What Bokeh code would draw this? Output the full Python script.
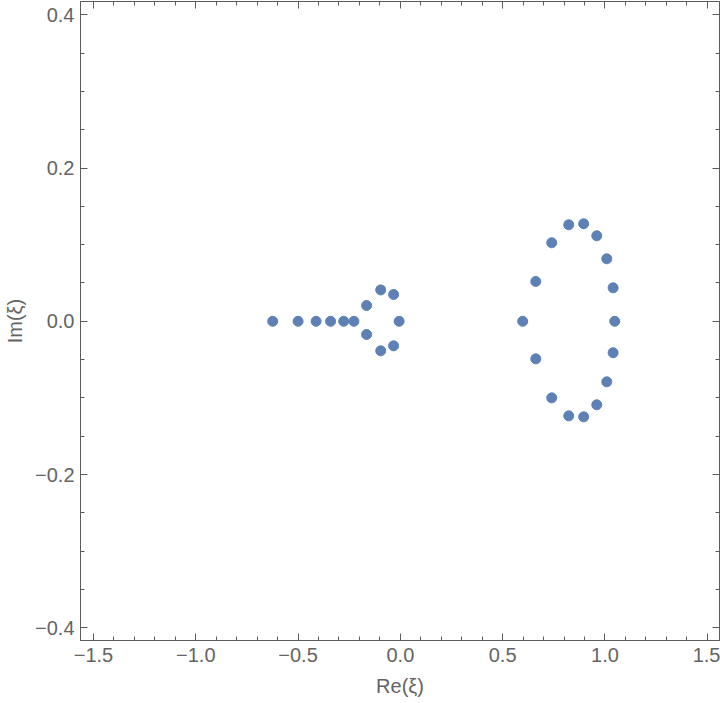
from bokeh.plotting import figure
from bokeh.models import Range1d, LinearAxis, FixedTicker, ColumnDataSource, CustomJSTickFormatter
from bokeh.embed import file_html
from bokeh.resources import INLINE

# Data: roots in the complex plane
re_vals = [-0.624, -0.500, -0.412, -0.341, -0.277, -0.227,
           -0.165, -0.165, -0.096, -0.096, -0.033, -0.033, -0.006,
           0.598, 0.662, 0.662, 0.740, 0.740, 0.823, 0.823, 0.896, 0.896,
           0.960, 0.960, 1.009, 1.009, 1.040, 1.040, 1.048]
im_vals = [0.0, 0.0, 0.0, 0.0, 0.0, 0.0,
           0.0206, -0.0172, 0.041, -0.0385, 0.035, -0.032, 0.0,
           0.0, 0.052, -0.049, 0.1025, -0.0999, 0.126, -0.1234, 0.1273, -0.1247,
           0.1116, -0.109, 0.0816, -0.079, 0.0437, -0.041, 0.0]

x_major = [-1.5, -1.0, -0.5, 0.0, 0.5, 1.0, 1.5]
x_labels = ["\u22121.5", "\u22121.0", "\u22120.5", "0.0", "0.5", "1.0", "1.5"]
x_minor = [round(-1.5 + 0.1 * i, 2) for i in range(31)]
y_major = [-0.4, -0.2, 0.0, 0.2, 0.4]
y_labels = ["\u22120.4", "\u22120.2", "0.0", "0.2", "0.4"]
y_minor = [round(-0.4 + 0.05 * i, 3) for i in range(17)]

FRAME = "#5c5c5c"
TEXT = "#646464"
FONT = "Liberation Sans"

p = figure(width=720, height=703,
           x_range=Range1d(-1.5635, 1.5600), y_range=Range1d(-0.4166, 0.4174),
           output_backend="svg", toolbar_location=None,
           x_axis_location=None, y_axis_location=None,
           min_border_left=80, min_border_right=1, min_border_top=1, min_border_bottom=63)
p.xgrid.visible = False
p.ygrid.visible = False
p.outline_line_color = FRAME
p.background_fill_color = "white"
p.border_fill_color = "white"

def style(ax, labels, show_labels):
    ax.axis_line_color = FRAME
    ax.major_tick_line_color = FRAME
    ax.minor_tick_line_color = FRAME
    ax.major_tick_in = 7
    ax.major_tick_out = 0
    ax.minor_tick_in = 4
    ax.minor_tick_out = 0
    if show_labels:
        ax.major_label_text_font = FONT
        ax.major_label_text_font_size = "20px"
        ax.major_label_text_color = TEXT
        ax.major_label_overrides = labels
    else:
        ax.formatter = CustomJSTickFormatter(code="return '';")
        ax.major_label_standoff = 0

xt = FixedTicker(ticks=x_major, minor_ticks=x_minor)
yt = FixedTicker(ticks=y_major, minor_ticks=y_minor)
xlab = {v: s for v, s in zip(x_major, x_labels)}
ylab = {v: s for v, s in zip(y_major, y_labels)}

bottom = LinearAxis(ticker=xt, axis_label="Re(\u03be)")
style(bottom, xlab, True)
bottom.major_label_standoff = 7
bottom.axis_label_standoff = 10
bottom.axis_label_text_font = FONT
bottom.axis_label_text_font_style = "normal"
bottom.axis_label_text_font_size = "20px"
bottom.axis_label_text_color = TEXT
p.add_layout(bottom, "below")

left = LinearAxis(ticker=yt, axis_label="Im(\u03be)")
style(left, ylab, True)
left.major_label_standoff = 6
left.axis_label_standoff = 6
left.axis_label_text_font = FONT
left.axis_label_text_font_style = "normal"
left.axis_label_text_font_size = "20px"
left.axis_label_text_color = TEXT
p.add_layout(left, "left")

top = LinearAxis(ticker=FixedTicker(ticks=x_major, minor_ticks=x_minor))
style(top, xlab, False)
p.add_layout(top, "above")

right = LinearAxis(ticker=FixedTicker(ticks=y_major, minor_ticks=y_minor))
style(right, ylab, False)
p.add_layout(right, "right")

src = ColumnDataSource(dict(x=re_vals, y=im_vals))
p.scatter("x", "y", source=src, size=10, fill_color="#5E81B5", line_color="#5E81B5")

open("out.html", "w").write(file_html(p, INLINE))
